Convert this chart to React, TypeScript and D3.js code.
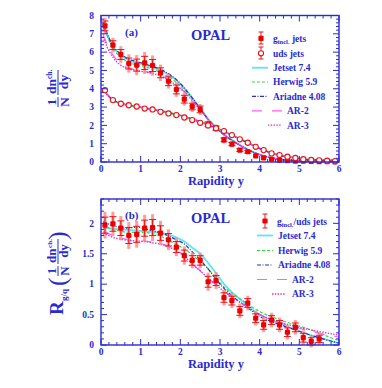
import React from 'react'
import * as d3 from 'd3'

const BLUE = '#2a2ad2'
const SERIF = '"Liberation Serif", "DejaVu Serif", serif'

// rapidity bin centres
const bins = [0.1, 0.3, 0.5, 0.7, 0.9, 1.1, 1.3, 1.5, 1.7, 1.9, 2.1, 2.3, 2.5, 2.7, 2.9,
  3.1, 3.3, 3.5, 3.7, 3.9, 4.1, 4.3, 4.5, 4.7, 4.9, 5.1, 5.3, 5.5, 5.7, 5.9]

// (a) gluon (g_incl.) and uds jets
const gluonVals = [7.43, 6.38, 5.87, 5.38, 5.29, 5.41, 5.27, 4.87, 4.41, 3.96, 3.43, 3.03, 2.87, 2.06, 1.85,
  1.21, 0.98, 0.65, 0.56, 0.33, 0.22, 0.15, 0.1, 0.07, 0.05, 0.04, 0.03, 0.02, 0.02, 0.01]
const gluonErr = [0.45, 0.4, 0.45, 0.5, 0.55, 0.6, 0.55, 0.45, 0.4, 0.4, 0.35, 0.3, 0.3, 0.22, 0.2,
  0.18, 0.15, 0.12, 0.12, 0.08, 0.06, 0.05, 0.04, 0.03, 0.03, 0.02, 0.02, 0.02, 0.01, 0.01]
const udsVals = [3.92, 3.38, 3.18, 3.1, 3.03, 2.92, 2.87, 2.74, 2.65, 2.56, 2.43, 2.29, 2.14, 2.0, 1.84,
  1.69, 1.47, 1.24, 1.05, 0.83, 0.65, 0.47, 0.38, 0.29, 0.22, 0.15, 0.11, 0.09, 0.07, 0.05]

// (b) ratio g_incl./uds
const ratioBins = [0.1, 0.3, 0.5, 0.7, 0.9, 1.1, 1.3, 1.5, 1.7, 1.9, 2.1, 2.3, 2.5, 2.7,
  2.9, 3.1, 3.3, 3.5, 3.7, 3.9, 4.1, 4.3, 4.5, 4.7, 4.9, 5.1, 5.3, 5.5]
const ratioVals = [1.97, 1.99, 1.92, 1.8, 1.82, 1.92, 1.93, 1.84, 1.73, 1.61, 1.47, 1.39, 1.39, 1.04,
  1.06, 0.78, 0.73, 0.56, 0.69, 0.44, 0.33, 0.41, 0.33, 0.21, 0.29, 0.12, 0.06, 0.1]
const ratioErr = [0.22, 0.2, 0.2, 0.22, 0.22, 0.22, 0.22, 0.2, 0.17, 0.15, 0.15, 0.13, 0.13, 0.15,
  0.14, 0.13, 0.12, 0.12, 0.12, 0.12, 0.12, 0.12, 0.12, 0.12, 0.12, 0.12, 0.1, 0.1]

// model predictions on a coarse grid
const grid = [0.05, 0.15, 0.3, 0.5, 0.7, 0.9, 1.1, 1.3, 1.6, 1.9, 2.1, 2.3, 2.5, 2.7, 2.9,
  3.1, 3.3, 3.6, 4.0, 4.4, 4.8, 5.2, 5.6, 6.0]

const jetsetG = [7.5, 7.0, 6.3, 5.85, 5.56, 5.42, 5.3, 5.17, 4.9, 4.47, 4.02, 3.5, 2.95, 2.35, 1.9, 1.5, 1.2, 0.8, 0.4, 0.18, 0.08, 0.04, 0.02, 0.01]
const herwigG = [7.45, 6.9, 6.2, 5.72, 5.45, 5.3, 5.2, 5.06, 4.78, 4.35, 3.95, 3.45, 2.9, 2.32, 1.88, 1.5, 1.2, 0.8, 0.41, 0.19, 0.09, 0.04, 0.02, 0.01]
const ariadneG = [7.6, 7.05, 6.35, 5.9, 5.62, 5.48, 5.36, 5.22, 4.95, 4.5, 4.05, 3.5, 2.92, 2.33, 1.88, 1.48, 1.18, 0.78, 0.39, 0.17, 0.08, 0.04, 0.02, 0.01]
const ar2G = [7.0, 6.45, 5.85, 5.35, 5.12, 5.04, 4.95, 4.86, 4.62, 4.2, 3.85, 3.38, 2.88, 2.33, 1.88, 1.5, 1.2, 0.8, 0.41, 0.19, 0.09, 0.04, 0.02, 0.01]
const ar3G = [6.85, 6.3, 5.72, 5.28, 5.08, 5.0, 4.92, 4.84, 4.6, 4.18, 3.82, 3.36, 2.87, 2.32, 1.88, 1.5, 1.2, 0.8, 0.41, 0.19, 0.09, 0.04, 0.02, 0.01]

const jetsetQ = [4.0, 3.7, 3.38, 3.2, 3.1, 3.04, 2.96, 2.88, 2.75, 2.6, 2.48, 2.35, 2.2, 2.03, 1.85, 1.67, 1.47, 1.16, 0.74, 0.42, 0.25, 0.13, 0.08, 0.04]
const herwigQ = [3.95, 3.68, 3.36, 3.17, 3.07, 3.0, 2.92, 2.84, 2.7, 2.55, 2.42, 2.29, 2.15, 2.0, 1.84, 1.66, 1.47, 1.17, 0.76, 0.44, 0.26, 0.14, 0.08, 0.04]
const ariadneQ = [4.02, 3.72, 3.4, 3.21, 3.11, 3.04, 2.96, 2.88, 2.75, 2.6, 2.48, 2.35, 2.2, 2.03, 1.85, 1.66, 1.46, 1.15, 0.73, 0.41, 0.24, 0.13, 0.07, 0.04]
const ar2Q = [3.98, 3.7, 3.39, 3.2, 3.1, 3.04, 2.96, 2.88, 2.76, 2.61, 2.49, 2.36, 2.21, 2.04, 1.86, 1.68, 1.48, 1.17, 0.75, 0.43, 0.25, 0.14, 0.08, 0.05]
const ar3Q = [3.96, 3.68, 3.38, 3.19, 3.09, 3.03, 2.95, 2.87, 2.75, 2.6, 2.48, 2.35, 2.2, 2.03, 1.85, 1.67, 1.47, 1.16, 0.75, 0.43, 0.26, 0.14, 0.08, 0.05]

const jetsetR = [1.92, 1.92, 1.91, 1.9, 1.89, 1.88, 1.87, 1.86, 1.83, 1.77, 1.7, 1.6, 1.5, 1.35, 1.18, 1.0, 0.87, 0.7, 0.5, 0.38, 0.28, 0.18, 0.1, 0.03]
const herwigR = [1.97, 1.94, 1.9, 1.87, 1.85, 1.85, 1.85, 1.83, 1.76, 1.65, 1.58, 1.48, 1.37, 1.25, 1.1, 0.95, 0.85, 0.72, 0.55, 0.44, 0.35, 0.27, 0.17, 0.07]
const ariadneR = [2.03, 2.0, 1.96, 1.93, 1.92, 1.94, 1.91, 1.88, 1.82, 1.73, 1.66, 1.53, 1.4, 1.25, 1.08, 0.93, 0.81, 0.66, 0.47, 0.36, 0.27, 0.18, 0.1, 0.03]
const ar2R = [1.86, 1.84, 1.8, 1.76, 1.73, 1.71, 1.71, 1.69, 1.65, 1.56, 1.47, 1.33, 1.22, 1.1, 0.99, 0.88, 0.79, 0.66, 0.5, 0.39, 0.31, 0.24, 0.18, 0.13]
const ar3R = [1.83, 1.81, 1.77, 1.74, 1.72, 1.71, 1.7, 1.68, 1.64, 1.55, 1.46, 1.33, 1.22, 1.1, 0.99, 0.88, 0.79, 0.66, 0.5, 0.4, 0.32, 0.26, 0.21, 0.16]

const modelNames = ['Jetset 7.4', 'Herwig 5.9', 'Ariadne 4.08', 'AR-2', 'AR-3']
const modelStyles = [
  {stroke: '#5fe4f2', dash: '', width: 1.8},
  {stroke: '#33dd33', dash: '3,2', width: 1.2},
  {stroke: '#2e2eb8', dash: '4,1.5,1,1.5', width: 1.2},
  {stroke: '#ff5cff', dash: '10,10', width: 1.2},
  {stroke: '#e020e0', dash: '1.4,1.4', width: 1.3}
]

const xTickLabels = ['0', '1', '2', '3', '4', '5', '6']

const x = d3.scaleLinear().domain([0, 6]).range([101, 339])

function Frame({y, major, minor, fmt}) {
  const [y0, y1] = y.range()
  const xMinor = x.ticks(30)
  return (
    <g>
      {xMinor.map((t, i) => {
        const big = Math.abs(t - Math.round(t)) < 1e-6
        const len = big ? 6 : 3
        return (
          <g key={'x' + i} stroke={BLUE} strokeWidth={1}>
            <line x1={x(t)} x2={x(t)} y1={y0} y2={y0 - len} />
            <line x1={x(t)} x2={x(t)} y1={y1} y2={y1 + len} />
          </g>
        )
      })}
      {minor.map((t, i) => {
        const big = major.some(m => Math.abs(m - t) < 1e-6)
        const len = big ? 6 : 3
        return (
          <g key={'y' + i} stroke={BLUE} strokeWidth={1}>
            <line x1={101} x2={101 + len} y1={y(t)} y2={y(t)} />
            <line x1={339} x2={339 - len} y1={y(t)} y2={y(t)} />
          </g>
        )
      })}
      <rect x={101} y={y1} width={238} height={y0 - y1} fill="none" stroke={BLUE} strokeWidth={1.4} />
      {xTickLabels.map((s, i) => (
        <text key={'xl' + i} x={x(i)} y={y0 + 10} textAnchor="middle" fontSize={9.5} fontWeight="bold" fill={BLUE}>{s}</text>
      ))}
      {major.map((t, i) => (
        <text key={'yl' + i} x={94} y={y(t) + 3.3} textAnchor="end" fontSize={9.5} fontWeight="bold" fill={BLUE}>{fmt(t)}</text>
      ))}
      <text x={216} y={y0 + 23} textAnchor="middle" fontSize={12.5} fontWeight="bold" fill={BLUE}>Rapidity y</text>
    </g>
  )
}

function Curves({y, sets}) {
  const line = d3.line().x((d, i) => x(grid[i])).y(d => y(d)).curve(d3.curveMonotoneX)
  return (
    <g fill="none">
      {sets.map((vals, k) => (
        <path key={k} d={line(vals)} stroke={modelStyles[k].stroke} strokeWidth={modelStyles[k].width}
          strokeDasharray={modelStyles[k].dash} />
      ))}
    </g>
  )
}

function ErrPoints({y, xs, vals, errs}) {
  return (
    <g>
      {xs.map((xv, i) => {
        const cx = x(xv)
        const e = errs[i], v = vals[i]
        const inner = e * 0.6
        return (
          <g key={i}>
            <line x1={cx} x2={cx} y1={y(v - e)} y2={y(v + e)} stroke="#ff8a8a" strokeWidth={3} opacity={0.85} />
            <line x1={cx} x2={cx} y1={y(v - inner)} y2={y(v + inner)} stroke="#e01818" strokeWidth={1} />
            {e > 0.08 && <line x1={cx - 3.5} x2={cx + 3.5} y1={y(v + inner)} y2={y(v + inner)} stroke="#e01818" strokeWidth={1} />}
            {e > 0.08 && <line x1={cx - 3.5} x2={cx + 3.5} y1={y(v - inner)} y2={y(v - inner)} stroke="#e01818" strokeWidth={1} />}
            <rect x={cx - 2.6} y={y(v) - 2.6} width={5.2} height={5.2} rx={1} fill="#ee0000" />
          </g>
        )
      })}
    </g>
  )
}

function LegendLines({rows, x0, x1, textX, textX2, ar3x0}) {
  return (
    <g>
      {modelNames.map((name, k) => {
        const ry = rows[k]
        const st = modelStyles[k]
        let a = x0, b = x1
        if (k === 3) b = x1 + 14
        if (k === 4) { a = ar3x0; b = ar3x0 + 13 }
        return (
          <g key={k}>
            <line x1={a} x2={b} y1={ry} y2={ry} stroke={st.stroke} strokeWidth={st.width} strokeDasharray={st.dash} />
            <text x={k >= 3 ? textX2 : textX} y={ry + 3.4} fontSize={9.5} fontWeight="bold" fill={BLUE}>{name}</text>
          </g>
        )
      })}
    </g>
  )
}

function FracLabel({cx, cy, size}) {
  // 1/N dn_ch./dy drawn in a rotated frame
  return (
    <g transform={`translate(${cx},${cy}) rotate(-90)`} fill={BLUE} fontWeight="bold" fontSize={size}>
      <text x={-14} y={-2.5} textAnchor="middle">1</text>
      <line x1={-19} x2={-9} y1={0} y2={0} stroke={BLUE} strokeWidth={1} />
      <text x={-14} y={11} textAnchor="middle">N</text>
      <text x={-6} y={-2.5}>dn</text>
      <text x={9} y={-6.5} fontSize={size * 0.55}>ch.</text>
      <line x1={-7} x2={18} y1={0} y2={0} stroke={BLUE} strokeWidth={1} />
      <text x={6} y={10} textAnchor="middle">dy</text>
    </g>
  )
}

export default function App() {
  const ya = d3.scaleLinear().domain([0, 8]).range([162, 15.5])
  const yb = d3.scaleLinear().domain([0, 2.4]).range([345, 199])

  const aMajor = [0, 1, 2, 3, 4, 5, 6, 7, 8]
  const aMinor = d3.range(0, 8.01, 0.2)
  const bMajor = [0, 0.5, 1, 1.5, 2]
  const bMinor = d3.range(0, 2.41, 0.1)

  return (
    <svg width={382} height={388} style={{position: 'absolute', left: 0, top: 0, background: '#fff'}}
      fontFamily={SERIF}>
      {/* panel (a) */}
      <Curves y={ya} sets={[jetsetQ, herwigQ, ariadneQ, ar2Q, ar3Q]} />
      <Curves y={ya} sets={[jetsetG, herwigG, ariadneG, ar2G, ar3G]} />
      <ErrPoints y={ya} xs={bins} vals={gluonVals} errs={gluonErr} />
      {bins.map((b, i) => (
        <circle key={i} cx={x(b)} cy={ya(udsVals[i])} r={2.6} fill="#fff" stroke="#ee1111" strokeWidth={1.1} />
      ))}
      <Frame y={ya} major={aMajor} minor={aMinor} fmt={d => String(d)} />
      <text x={125} y={36} fontSize={11} fontWeight="bold" fill={BLUE}>(a)</text>
      <text x={191} y={40} fontSize={14.5} fontWeight="bold" fill={BLUE}>OPAL</text>
      <FracLabel cx={58} cy={88} size={13.5} />

      {/* legend (a) */}
      <g>
        <line x1={261} x2={261} y1={32} y2={44} stroke="#e01818" strokeWidth={1} />
        <line x1={258.5} x2={263.5} y1={32} y2={32} stroke="#e01818" strokeWidth={1} />
        <line x1={258.5} x2={263.5} y1={44} y2={44} stroke="#e01818" strokeWidth={1} />
        <rect x={258.4} y={35.7} width={5.2} height={5.2} rx={1} fill="#ee0000" />
        <text x={273} y={41.5} fontSize={9.5} fontWeight="bold" fill={BLUE}>g<tspan fontSize={6.5} dy={2.5}>incl.</tspan><tspan dy={-2.5}> jets</tspan></text>
        <line x1={261} x2={261} y1={47} y2={59} stroke="#e01818" strokeWidth={1} />
        <line x1={258.5} x2={263.5} y1={47} y2={47} stroke="#e01818" strokeWidth={1} />
        <line x1={258.5} x2={263.5} y1={59} y2={59} stroke="#e01818" strokeWidth={1} />
        <circle cx={261} cy={53.3} r={2.6} fill="#fff" stroke="#ee1111" strokeWidth={1.1} />
        <text x={273} y={56.7} fontSize={9.5} fontWeight="bold" fill={BLUE}>uds jets</text>
        <LegendLines rows={[67.7, 82, 96.3, 110.8, 125.2]} x0={252} x1={268} textX={273} textX2={287} ar3x0={268} />
      </g>

      {/* panel (b) */}
      <Curves y={yb} sets={[jetsetR, herwigR, ariadneR, ar2R, ar3R]} />
      <ErrPoints y={yb} xs={ratioBins} vals={ratioVals} errs={ratioErr} />
      <Frame y={yb} major={bMajor} minor={bMinor} fmt={d => String(d)} />
      <text x={125} y={219} fontSize={11} fontWeight="bold" fill={BLUE}>(b)</text>
      <text x={191} y={223} fontSize={14.5} fontWeight="bold" fill={BLUE}>OPAL</text>
      <g transform="translate(58,300) rotate(-90)" fill={BLUE} fontWeight="bold">
        <text x={-15} y={5} fontSize={19}>R</text>
        <text x={-1} y={9} fontSize={9}>g/q</text>
        <text x={14} y={8} fontSize={26} fontWeight="normal">(</text>
      </g>
      <g transform="translate(58,300) rotate(-90)" fill={BLUE} fontWeight="normal">
        <text x={60} y={8} fontSize={26}>)</text>
      </g>
      <FracLabel cx={58} cy={300 - 43} size={13} />

      {/* legend (b) */}
      <g>
        <line x1={265} x2={265} y1={214} y2={228} stroke="#e01818" strokeWidth={1} />
        <line x1={262.5} x2={267.5} y1={214} y2={214} stroke="#e01818" strokeWidth={1} />
        <line x1={262.5} x2={267.5} y1={228} y2={228} stroke="#e01818" strokeWidth={1} />
        <rect x={262.4} y={218.4} width={5.2} height={5.2} rx={1} fill="#ee0000" />
        <text x={277} y={224.5} fontSize={9.5} fontWeight="bold" fill={BLUE}>g<tspan fontSize={6.5} dy={2.5}>incl.</tspan><tspan dy={-2.5}>/uds jets</tspan></text>
        <LegendLines rows={[235.5, 250.5, 265, 279.5, 294]} x0={257} x1={273} textX={278} textX2={292} ar3x0={272} />
      </g>
    </svg>
  )
}
